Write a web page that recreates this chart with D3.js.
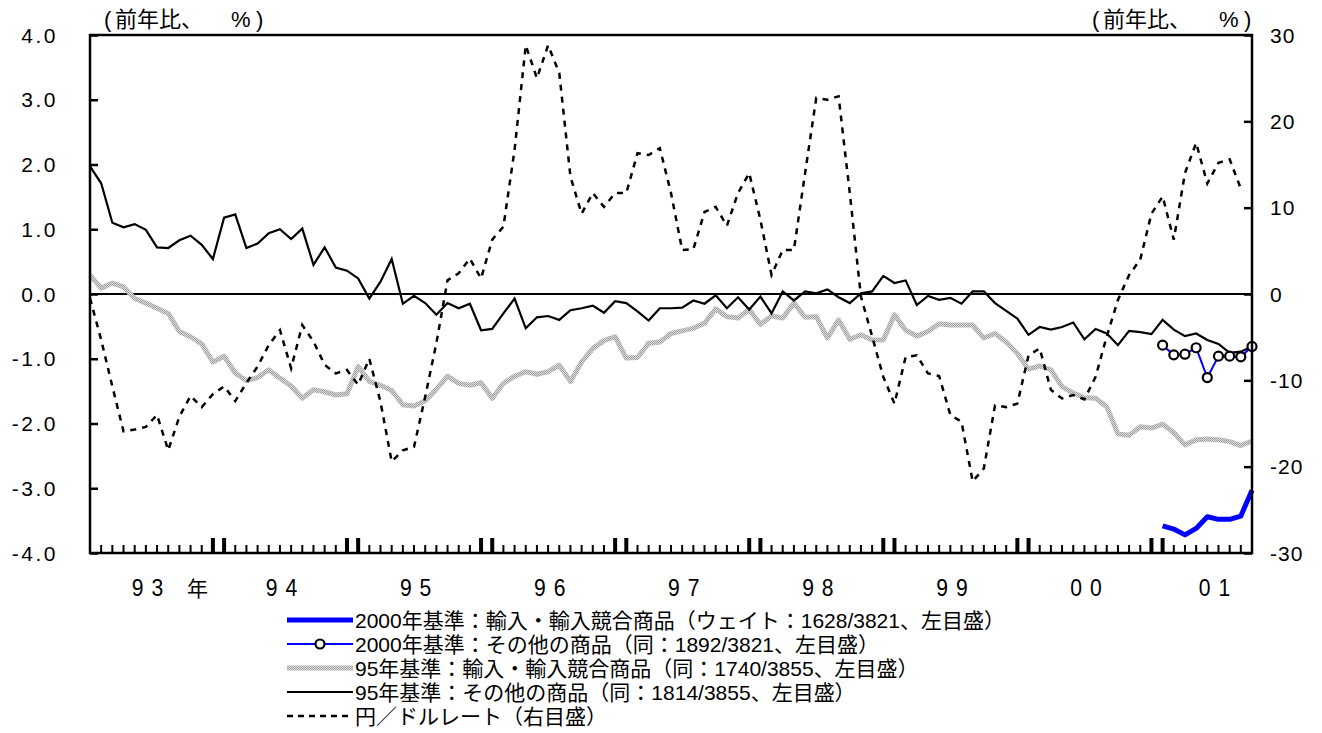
<!DOCTYPE html>
<html>
<head>
<meta charset="utf-8">
<script src="https://cdn.jsdelivr.net/npm/d3@7"></script>
<style>
  html, body { margin: 0; padding: 0; background: #fff; }
  svg { display: block; }
  text { font-family: "Liberation Sans", Arial, "Noto Sans CJK JP", sans-serif; fill: #000; }
</style>
</head>
<body>
<svg id="chart" width="1322" height="733"></svg>
<script>
// ---- data (monthly, Jan 1993 = index 0) ----
const years = ["93", "94", "95", "96", "97", "98", "99", "00", "01"];
const leftTicks = [4, 3, 2, 1, 0, -1, -2, -3, -4];
const leftTickLabels = ["4.0", "3.0", "2.0", "1.0", "0.0", "-1.0", "-2.0", "-3.0", "-4.0"];
const rightTicks = [30, 20, 10, 0, -10, -20, -30];
const rightTickLabels = ["30", "20", "10", "0", "-10", "-20", "-30"];

// 95年基準：その他の商品 (left axis) index 0..104
const other95 = [1.97,1.71,1.10,1.03,1.08,0.99,0.72,0.71,0.83,0.90,
 0.76,0.54,1.18,1.23,0.71,0.78,0.94,1.00,0.85,1.01,
 0.45,0.72,0.41,0.36,0.24,-0.07,0.19,0.54,-0.15,-0.03,
 -0.14,-0.32,-0.14,-0.22,-0.15,-0.56,-0.54,-0.30,-0.07,-0.53,
 -0.36,-0.34,-0.40,-0.25,-0.22,-0.18,-0.29,-0.11,-0.14,-0.27,
 -0.41,-0.22,-0.22,-0.21,-0.10,-0.15,-0.02,-0.22,-0.05,-0.24,
 -0.04,-0.30,0.04,-0.10,0.04,0.01,0.07,-0.05,-0.14,0.01,
 0.04,0.28,0.17,0.21,-0.17,-0.03,-0.09,-0.06,-0.15,0.04,
 0.04,-0.14,-0.26,-0.38,-0.63,-0.51,-0.55,-0.51,-0.44,-0.70,
 -0.54,-0.61,-0.79,-0.57,-0.59,-0.62,-0.40,-0.55,-0.65,-0.61,
 -0.71,-0.77,-0.91,-0.89,-0.81];

// 95年基準：輸入・輸入競合商品 (left axis) index 0..104
const import95 = [0.29,0.09,0.17,0.11,-0.07,-0.14,-0.22,-0.30,-0.58,-0.66,
 -0.77,-1.05,-0.96,-1.22,-1.34,-1.29,-1.17,-1.30,-1.42,-1.61,
 -1.48,-1.51,-1.56,-1.54,-1.12,-1.35,-1.41,-1.49,-1.71,-1.73,
 -1.65,-1.47,-1.27,-1.38,-1.41,-1.37,-1.61,-1.38,-1.27,-1.20,
 -1.24,-1.20,-1.10,-1.35,-1.05,-0.84,-0.72,-0.66,-0.99,-0.98,
 -0.76,-0.74,-0.61,-0.57,-0.53,-0.45,-0.23,-0.35,-0.37,-0.24,
 -0.47,-0.34,-0.37,-0.14,-0.36,-0.35,-0.68,-0.40,-0.70,-0.63,
 -0.71,-0.71,-0.32,-0.56,-0.65,-0.58,-0.46,-0.48,-0.48,-0.48,
 -0.68,-0.61,-0.74,-0.92,-1.16,-1.11,-1.17,-1.43,-1.53,-1.60,
 -1.61,-1.74,-2.16,-2.18,-2.05,-2.07,-2.01,-2.14,-2.33,-2.25,
 -2.24,-2.25,-2.28,-2.34,-2.27];

// 円／ドルレート (right axis) index 0..103
const yenRate = [-0.5,-5.3,-10.7,-15.9,-15.7,-15.4,-14.0,-18.1,-14.2,-11.8,
 -13.1,-11.6,-10.7,-12.4,-10.3,-8.4,-5.9,-4.2,-8.6,-3.6,
 -5.5,-8.2,-9.2,-8.8,-10.5,-7.5,-12.5,-19.4,-18.1,-17.7,
 -11.9,-5.7,1.6,2.4,4.1,1.8,6.3,7.8,16.7,28.8,
 25.0,28.8,25.6,13.6,9.3,11.7,10.1,11.7,11.7,16.3,
 16.1,16.9,11.7,5.1,5.2,9.5,10.1,7.9,11.7,14.0,
 8.6,2.2,5.1,5.1,14.0,22.7,22.5,22.9,11.7,-0.3,
 -4.9,-9.6,-12.7,-7.3,-7.1,-9.2,-9.5,-14.0,-14.8,-21.7,
 -20.2,-12.9,-13.1,-12.7,-7.1,-6.3,-11.1,-12.1,-11.7,-12.2,
 -9.6,-4.9,-0.7,2.2,4.0,9.3,11.3,6.3,14.0,17.5,
 12.8,15.2,15.6,12.2];

// 2000年基準 series start at index 96 (Jan 2001)
const start2000 = 96;
const import2000 = [-3.58,-3.63,-3.72,-3.62,-3.44,-3.48,-3.48,-3.43,-3.03];
const other2000 = [-0.79,-0.94,-0.93,-0.83,-1.29,-0.96,-0.96,-0.97,-0.81];

const legendLabels = [
  "2000年基準：輸入・輸入競合商品（ウェイト：1628/3821、左目盛）",
  "2000年基準：その他の商品（同：1892/3821、左目盛）",
  "95年基準：輸入・輸入競合商品（同：1740/3855、左目盛）",
  "95年基準：その他の商品（同：1814/3855、左目盛）",
  "円／ドルレート（右目盛）"
];
const unitParts = ["(", "前年比、", "%", ")"];

// ---- layout ----
const L = 90, R = 1252, T = 35, B = 553;
const nMonths = 104;

const svg = d3.select("#chart");
const defs = svg.append("defs");
const pat = defs.append("pattern").attr("id", "grayTex")
  .attr("patternUnits", "userSpaceOnUse").attr("width", 2).attr("height", 2);
pat.append("rect").attr("width", 2).attr("height", 2).attr("fill", "#dcdcdc");
pat.append("rect").attr("x", 0).attr("y", 0).attr("width", 1).attr("height", 1).attr("fill", "#999");
pat.append("rect").attr("x", 1).attr("y", 1).attr("width", 1).attr("height", 1).attr("fill", "#a6a6a6");

const x = d3.scaleLinear().domain([0, nMonths]).range([L, R]);
const yL = d3.scaleLinear().domain([-4, 4]).range([B, T]);
const yR = d3.scaleLinear().domain([-30, 30]).range([B, T]);

// ---- axes ----
const leftAxis = d3.axisRight(yL).tickValues(leftTicks).tickSize(8).tickFormat("");
const gl = svg.append("g").attr("transform", `translate(${L},0)`).call(leftAxis);
gl.select(".domain").remove();
gl.selectAll(".tick line").attr("stroke", "#000").attr("stroke-width", 2.5);
svg.append("g").selectAll("text").data(leftTicks).join("text")
  .attr("x", 58).attr("y", d => yL(d)).attr("dy", "0.36em")
  .attr("text-anchor", "end").attr("font-size", 21).attr("letter-spacing", 2.5)
  .text((d, i) => leftTickLabels[i]);

const rightAxis = d3.axisLeft(yR).tickValues(rightTicks).tickSize(8).tickFormat("");
const gr = svg.append("g").attr("transform", `translate(${R},0)`).call(rightAxis);
gr.select(".domain").remove();
gr.selectAll(".tick line").attr("stroke", "#000").attr("stroke-width", 2.5);
svg.append("g").selectAll("text").data(rightTicks).join("text")
  .attr("x", 1270).attr("y", d => yR(d)).attr("dy", "0.36em")
  .attr("text-anchor", "start").attr("font-size", 21).attr("letter-spacing", 1)
  .text((d, i) => rightTickLabels[i]);

// bottom month ticks
const months = d3.range(0, nMonths + 1);
const isMajor = i => (i % 12 === 11 || (i % 12 === 0 && i > 0));
const gb = svg.append("g");
gb.selectAll("line.minor").data(months.filter(i => !isMajor(i))).join("line")
  .attr("x1", d => x(d)).attr("x2", d => x(d))
  .attr("y1", B).attr("y2", B - 8).attr("stroke", "#000").attr("stroke-width", 2);
gb.selectAll("line.major").data(months.filter(isMajor)).join("line")
  .attr("x1", d => x(d)).attr("x2", d => x(d))
  .attr("y1", B).attr("y2", B - 15).attr("stroke", "#000").attr("stroke-width", 4);

// year labels
const yearPos = years.map((y, k) => k < years.length - 1 ? 12 * k + 5.5 : 12 * k + 5);
svg.append("g").selectAll("text").data(years).join("text")
  .attr("transform", (d, k) => `translate(${x(yearPos[k])},596) scale(0.88,1)`)
  .attr("text-anchor", "middle").attr("font-size", 24).attr("letter-spacing", 9)
  .text(d => d);
svg.append("text").attr("transform", `translate(${x(yearPos[0]) + 46},596)`)
  .attr("text-anchor", "middle").attr("font-size", 21).text("年");

// unit labels
function unitLabel(x0) {
  const t = svg.append("text").attr("y", 27).attr("font-size", 22);
  const offs = [0, 11, 127, 152];
  unitParts.forEach((p, i) => t.append("tspan").attr("x", x0 + offs[i]).text(p));
}
unitLabel(104);
unitLabel(1092);

// zero line
svg.append("line").attr("x1", L).attr("x2", R).attr("y1", yL(0)).attr("y2", yL(0))
  .attr("stroke", "#000").attr("stroke-width", 2);

// ---- series ----
const lineL = d3.line().x(d => x(d[0])).y(d => yL(d[1]));
const lineR = d3.line().x(d => x(d[0])).y(d => yR(d[1]));

svg.append("path").datum(import95.map((v, i) => [i, v]))
  .attr("d", lineL).attr("fill", "none").attr("stroke", "url(#grayTex)")
  .attr("stroke-width", 5).attr("stroke-linejoin", "round");

svg.append("path").datum(yenRate.map((v, i) => [i, v]))
  .attr("d", lineR).attr("fill", "none").attr("stroke", "#000")
  .attr("stroke-width", 2.5).attr("stroke-dasharray", "6,6");

svg.append("path").datum(other95.map((v, i) => [i, v]))
  .attr("d", lineL).attr("fill", "none").attr("stroke", "#000")
  .attr("stroke-width", 2.2).attr("stroke-linejoin", "miter");

svg.append("path").datum(import2000.map((v, i) => [start2000 + i, v]))
  .attr("d", lineL).attr("fill", "none").attr("stroke", "#0000ff")
  .attr("stroke-width", 5).attr("stroke-linejoin", "round");

const o2000 = other2000.map((v, i) => [start2000 + i, v]);
svg.append("path").datum(o2000)
  .attr("d", lineL).attr("fill", "none").attr("stroke", "#0000ff").attr("stroke-width", 2);
svg.append("g").selectAll("circle").data(o2000).join("circle")
  .attr("cx", d => x(d[0])).attr("cy", d => yL(d[1])).attr("r", 4.5)
  .attr("fill", "#fff").attr("stroke", "#000").attr("stroke-width", 2.2);

// frame
svg.append("rect").attr("x", L).attr("y", T).attr("width", R - L).attr("height", B - T)
  .attr("fill", "none").attr("stroke", "#000").attr("stroke-width", 2.5);

// ---- legend ----
const legY = [620, 644, 668, 692, 716];
const lx1 = 287, lx2 = 353;
const lg = svg.append("g");
lg.append("line").attr("x1", lx1).attr("x2", lx2).attr("y1", legY[0]).attr("y2", legY[0])
  .attr("stroke", "#0000ff").attr("stroke-width", 5);
lg.append("line").attr("x1", lx1).attr("x2", lx2).attr("y1", legY[1]).attr("y2", legY[1])
  .attr("stroke", "#0000ff").attr("stroke-width", 2);
lg.append("circle").attr("cx", (lx1 + lx2) / 2).attr("cy", legY[1]).attr("r", 4.5)
  .attr("fill", "#fff").attr("stroke", "#000").attr("stroke-width", 2.2);
lg.append("line").attr("x1", lx1).attr("x2", lx2).attr("y1", legY[2]).attr("y2", legY[2])
  .attr("stroke", "url(#grayTex)").attr("stroke-width", 5);
lg.append("line").attr("x1", lx1).attr("x2", lx2).attr("y1", legY[3]).attr("y2", legY[3])
  .attr("stroke", "#000").attr("stroke-width", 2);
lg.append("line").attr("x1", lx1).attr("x2", lx2).attr("y1", legY[4]).attr("y2", legY[4])
  .attr("stroke", "#000").attr("stroke-width", 2.5).attr("stroke-dasharray", "6,5");
lg.selectAll("text").data(legendLabels).join("text")
  .attr("x", lx2 + 2).attr("y", (d, i) => legY[i]).attr("dy", "0.36em")
  .attr("font-size", 21).text(d => d);
</script>
</body>
</html>
